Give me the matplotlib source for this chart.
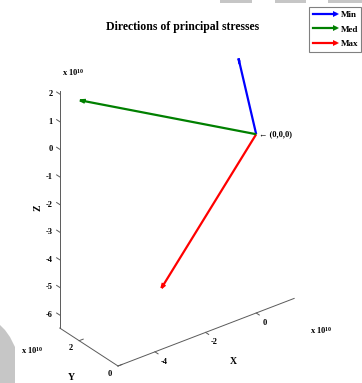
import numpy as np
import matplotlib
matplotlib.use('Agg')
import matplotlib.pyplot as plt
from matplotlib.lines import Line2D
from matplotlib.legend_handler import HandlerBase
from matplotlib.patches import Polygon, Rectangle
from mpl_toolkits.mplot3d import proj3d

plt.rcParams['font.family'] = ['Liberation Serif', 'DejaVu Serif']
plt.rcParams['font.weight'] = 'bold'
plt.rcParams['mathtext.fontset'] = 'custom'
plt.rcParams['mathtext.rm'] = 'Liberation Serif:bold'
plt.rcParams['mathtext.bf'] = 'Liberation Serif:bold'
plt.rcParams['mathtext.it'] = 'Liberation Serif:bold'

# ---- data (units of 10^10) ----
names = ['Min', 'Med', 'Max']
colors = ['#0000ff', '#008000', '#ff0000']
dir_x = [1.45, -5.46, -1.40]
dir_y = [2.80, 1.96, 3.05]
dir_z = [0.95, 2.25, -6.47]
x_lim = [-5.46, 1.5]
y_lim = [0.0, 3.0]
z_lim = [-6.47, 2.1]
x_ticks = [-4, -2, 0]
y_ticks = [0, 2]
z_ticks = [-6, -5, -4, -3, -2, -1, 0, 1, 2]
title = 'Directions of principal stresses'
origin_label = '\u2190 (0,0,0)'
multiplier = 'x 10$^{10}$'

W, H = 362, 383
fig = plt.figure(figsize=(W / 100, H / 100), dpi=100)
S = 250
ax = fig.add_axes([50 / W, 50 / H, S / W, S / H], projection='3d')
ax.set_proj_type('ortho')
ax.view_init(elev=30, azim=-127.5)
ax.set_xlim(x_lim)
ax.set_ylim(y_lim)
ax.set_zlim(z_lim)
ax.set_box_aspect((x_lim[1] - x_lim[0], y_lim[1] - y_lim[0], z_lim[1] - z_lim[0]))
ax.set_axis_off()

fig.canvas.draw()


def disp(p):
    x, y, _ = proj3d.proj_transform(p[0], p[1], p[2], ax.get_proj())
    return np.asarray(ax.transData.transform((x, y)))


# calibrate axes position so that box corners land where the reference has them
F_des = np.array([118.0, H - 366.0])
T_des = np.array([61.0, H - 91.0])
pF = disp((x_lim[0], y_lim[0], z_lim[0]))
pT = disp((x_lim[0], y_lim[1], z_lim[1]))
k = np.linalg.norm(T_des - F_des) / np.linalg.norm(pT - pF)
bb = ax.bbox
fx = (pF[0] - bb.x0) / bb.width
fy = (pF[1] - bb.y0) / bb.height
nw, nh = bb.width * k, bb.height * k
x0 = F_des[0] - fx * nw
y0 = F_des[1] - fy * nh
ax.set_position([x0 / W, y0 / H, nw / W, nh / H])
fig.canvas.draw()

# ---- arrows ----
for i in range(len(names)):
    L = np.sqrt(dir_x[i] ** 2 + dir_y[i] ** 2 + dir_z[i] ** 2)
    ax.quiver(0, 0, 0, dir_x[i], dir_y[i], dir_z[i], color=colors[i],
              linewidth=1.6, arrow_length_ratio=0.2 / L)

# ---- axis lines ----
acol = '#5a5a5a'
alw = 0.7
ax.plot([x_lim[0], x_lim[0]], [y_lim[1], y_lim[1]], [z_lim[0], z_lim[1]], color=acol, lw=alw)
ax.plot([x_lim[0], x_lim[0]], [y_lim[0], y_lim[1]], [z_lim[0], z_lim[0]], color=acol, lw=alw)
ax.plot([x_lim[0], x_lim[1]], [y_lim[0], y_lim[0]], [z_lim[0], z_lim[0]], color=acol, lw=alw)


def ptext(p, dx, dy, s, **kw):
    """Place text at the projected 3D point p, offset by (dx, dy) pixels."""
    q = disp(p)
    fig.text((q[0] + dx) / W, (q[1] + dy) / H, s, **kw)


t = 0.16
fs_tick = 6
for z in z_ticks:
    ax.plot([x_lim[0], x_lim[0]], [y_lim[1], y_lim[1] + t], [z, z], color=acol, lw=alw)
    ptext((x_lim[0], y_lim[1], z), -7, 0, f'{z}', ha='right', va='center', fontsize=fs_tick)
for x in x_ticks:
    ax.plot([x, x], [y_lim[0], y_lim[0] - t], [z_lim[0], z_lim[0]], color=acol, lw=alw)
    ptext((x, y_lim[0], z_lim[0]), 9, -10, f'{x}', ha='center', va='center', fontsize=fs_tick)
for y in y_ticks:
    ax.plot([x_lim[0], x_lim[0] + t], [y, y], [z_lim[0], z_lim[0]], color=acol, lw=alw)
    ptext((x_lim[0], y, z_lim[0]), -8, -7.5, f'{y}', ha='center', va='center', fontsize=fs_tick)

ptext((0, 0, 0), 3, 0, origin_label, ha='left', va='center', fontsize=6)


# ---- texts ----
def ftext(px, py, s, **kw):
    fig.text(px / W, 1 - py / H, s, **kw)

ftext(183, 27, title, ha='center', va='center', fontsize=8.5)
ftext(62, 73, multiplier, ha='left', va='center', fontsize=6)
ftext(310, 330, multiplier, ha='left', va='center', fontsize=6)
ftext(21, 350, multiplier, ha='left', va='center', fontsize=6)
ftext(38, 208, 'Z', ha='center', va='center', fontsize=7, rotation=90)
ftext(233, 362, 'X', ha='center', va='center', fontsize=7)
ftext(71, 377, 'Y', ha='center', va='center', fontsize=7)


# ---- legend ----
class ArrowHandler(HandlerBase):
    def create_artists(self, legend, orig_handle, xdescent, ydescent, width, height,
                       fontsize, trans):
        y = height / 2 - ydescent
        c = orig_handle.get_color()
        line = Line2D([-xdescent, width - xdescent - 2], [y, y], color=c, lw=1.6, transform=trans)
        head = Line2D([width - xdescent - 2], [y], marker='>', markersize=4, color=c,
                      markeredgewidth=0, linestyle='none', transform=trans)
        return [line, head]


handles = [Line2D([], [], color=c) for c in colors]
leg = fig.legend(handles, names, loc='upper right', bbox_to_anchor=(361.5 / W, 1 - 7 / H),
                 bbox_transform=fig.transFigure, fancybox=False, framealpha=1,
                 edgecolor='#808080', fontsize=6.5, borderpad=0.4, handlelength=2.9,
                 handletextpad=0.15, labelspacing=0.7, borderaxespad=0,
                 handler_map={Line2D: ArrowHandler()})
leg.get_frame().set_linewidth(0.8)

# ---- screenshot gray shapes ----
def px_poly(pts):
    return [(x / W, 1 - y / H) for x, y in pts]

fig.add_artist(Polygon(px_poly([(0, 325), (5, 330), (10, 337), (15, 347), (15, 383), (0, 383)]),
                       closed=True, facecolor='#c6c6c6', edgecolor='none', transform=fig.transFigure))
for a, b in [(220, 252), (275, 306), (328, 362)]:
    fig.add_artist(Rectangle((a / W, 1 - 3 / H), (b - a) / W, 3 / H, facecolor='#c6c6c6',
                             edgecolor='none', transform=fig.transFigure))

fig.savefig('out.png', dpi=100)
